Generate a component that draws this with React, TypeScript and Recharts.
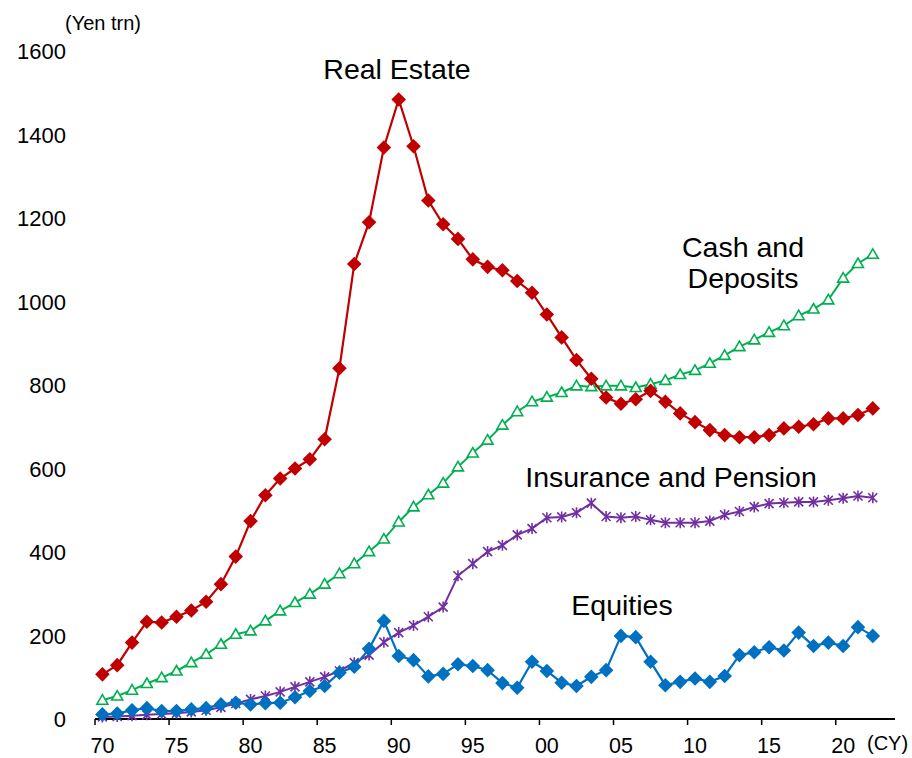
import { LineChart, Line, XAxis, YAxis } from 'recharts';

// calendar years (CY)
const years = [
  1970, 1971, 1972, 1973, 1974, 1975, 1976, 1977, 1978, 1979,
  1980, 1981, 1982, 1983, 1984, 1985, 1986, 1987, 1988, 1989,
  1990, 1991, 1992, 1993, 1994, 1995, 1996, 1997, 1998, 1999,
  2000, 2001, 2002, 2003, 2004, 2005, 2006, 2007, 2008, 2009,
  2010, 2011, 2012, 2013, 2014, 2015, 2016, 2017, 2018, 2019,
  2020, 2021, 2022,
];

// yen trillion
const realEstate = [
  107, 129, 183, 233, 231, 245, 260, 281, 323, 389,
  474, 536, 576, 600, 622, 670, 840, 1090, 1190, 1369,
  1484, 1372, 1242, 1185, 1150, 1101, 1083, 1075, 1049, 1021,
  969, 914, 860, 815, 770, 755, 766, 786, 760, 732,
  711, 692, 680, 675, 675, 680, 696, 700, 706, 720,
  720, 728, 744,
];
const cashDeposits = [
  45, 55, 69, 85, 99, 115, 135, 155, 179, 203,
  211, 235, 259, 279, 299, 323, 348, 372, 401, 431,
  472, 508, 537, 565, 604, 637, 668, 704, 736, 760,
  771, 782, 798, 796, 798, 798, 794, 802, 811, 825,
  835, 852, 871, 892, 908, 926, 942, 966, 982, 1004,
  1056, 1091, 1113,
];
const insurancePension = [
  5, 6, 8, 10, 12, 14, 17, 21, 28, 37,
  47, 55, 65, 77, 89, 101, 115, 135, 153, 184,
  207, 224, 245, 268, 343, 372, 401, 416, 441, 456,
  482, 484, 494, 517, 485, 482, 485, 477, 470, 470,
  470, 474, 489, 497, 508, 516, 518, 520, 520, 524,
  529, 534, 530,
];
const equities = [
  11, 13, 21, 26, 19, 19, 23, 26, 35, 39,
  35, 38, 39, 52, 67, 79, 111, 125, 168, 235,
  151, 141, 102, 108, 131, 127, 117, 86, 75, 137,
  115, 87, 79, 101, 117, 199, 196, 137, 81, 89,
  97, 89, 103, 153, 160, 172, 164, 207, 175, 183,
  175, 220, 199,
];

const yTicks = [0, 200, 400, 600, 800, 1000, 1200, 1400, 1600];
const xTicks = [1970, 1975, 1980, 1985, 1990, 1995, 2000, 2005, 2010, 2015, 2020];

const FONT = '"Liberation Sans", Arial, Helvetica, sans-serif';
const W = 912;
const H = 758;
const PLOT = { left: 95, right: 895, top: 51, bottom: 719 };
const X_DOMAIN: [number, number] = [1969.5, 2023.5];
const HALF = (PLOT.right - PLOT.left) / (X_DOMAIN[1] - X_DOMAIN[0]) / 2;

const RED = '#C00000';
const GREEN = '#00B050';
const PURPLE = '#7030A0';
const BLUE = '#0070C0';

const data = years.map((year, i) => ({
  year,
  re: realEstate[i],
  cash: cashDeposits[i],
  ins: insurancePension[i],
  eq: equities[i],
}));

const diamond = (color: string) => (p: any) => {
  const { cx, cy, index } = p;
  if (cx == null || cy == null) return <g key={index} />;
  const r = 7.3;
  return (
    <path key={index} d={`M${cx},${cy - r}L${cx + r},${cy}L${cx},${cy + r}L${cx - r},${cy}Z`} fill={color} />
  );
};

const triangle = (p: any) => {
  const { cx, cy, index } = p;
  if (cx == null || cy == null) return <g key={index} />;
  return (
    <path
      key={index}
      d={`M${cx},${cy - 5.5}L${cx + 5.5},${cy + 4}L${cx - 5.5},${cy + 4}Z`}
      fill="#fff"
      stroke={GREEN}
      strokeWidth={1.6}
    />
  );
};

const asterisk = (p: any) => {
  const { cx, cy, index } = p;
  if (cx == null || cy == null) return <g key={index} />;
  const r = 4.5;
  return (
    <path
      key={index}
      d={`M${cx - r},${cy - r}L${cx + r},${cy + r}M${cx - r},${cy + r}L${cx + r},${cy - r}M${cx},${cy - r - 1}L${cx},${cy + r + 1}`}
      stroke={PURPLE}
      strokeWidth={1.6}
      fill="none"
    />
  );
};

const XTick = (p: any) => {
  const x = p.payload.coordinate;
  const label = String(p.payload.value % 100).padStart(2, '0');
  return (
    <g>
      <line x1={x - HALF} x2={x - HALF} y1={PLOT.bottom} y2={PLOT.bottom + 6} stroke="#000" strokeWidth={1.5} />
      <text x={x} y={PLOT.bottom + 34} textAnchor="middle" fontSize={21.5} fontFamily={FONT} fill="#000">
        {label}
      </text>
    </g>
  );
};

const YTick = (p: any) => (
  <text x={66} y={p.payload.coordinate + 8} textAnchor="end" fontSize={22} fontFamily={FONT} fill="#000">
    {p.payload.value}
  </text>
);

const label = { fontFamily: FONT, fontSize: 28.5, fill: '#000', textAnchor: 'middle' as const };

export default function App() {
  return (
    <div style={{ position: 'absolute', left: 0, top: 0, width: W, height: H, background: '#fff' }}>
      <LineChart
        width={W}
        height={H}
        data={data}
        margin={{ top: PLOT.top, right: W - PLOT.right, bottom: 0, left: 0 }}
      >
        <XAxis
          dataKey="year"
          type="number"
          domain={X_DOMAIN}
          ticks={xTicks}
          interval={0}
          height={H - PLOT.bottom}
          tick={<XTick />}
          tickLine={false}
          axisLine={{ stroke: '#000', strokeWidth: 2 }}
        />
        <YAxis
          type="number"
          domain={[0, 1600]}
          ticks={yTicks}
          interval={0}
          width={PLOT.left}
          axisLine={false}
          tickLine={false}
          tick={<YTick />}
        />
        <Line dataKey="cash" stroke={GREEN} strokeWidth={2} dot={triangle} isAnimationActive={false} />
        <Line dataKey="ins" stroke={PURPLE} strokeWidth={2} dot={asterisk} isAnimationActive={false} />
        <Line dataKey="re" stroke={RED} strokeWidth={2.2} dot={diamond(RED)} isAnimationActive={false} />
        <Line dataKey="eq" stroke={BLUE} strokeWidth={2.2} dot={diamond(BLUE)} isAnimationActive={false} />
      </LineChart>
      <svg width={W} height={H} style={{ position: 'absolute', left: 0, top: 0, pointerEvents: 'none' }}>
        <text x={103} y={30} textAnchor="middle" fontSize={20} fontFamily={FONT} fill="#000">(Yen trn)</text>
        <text x={397} y={79} {...label}>Real Estate</text>
        <text x={743} y={257} {...label}>Cash and</text>
        <text x={743} y={288} {...label}>Deposits</text>
        <text x={671} y={487} {...label}>Insurance and Pension</text>
        <text x={622} y={615} {...label}>Equities</text>
        <text x={867} y={750} fontSize={20} fontFamily={FONT} fill="#000">(CY)</text>
      </svg>
    </div>
  );
}
